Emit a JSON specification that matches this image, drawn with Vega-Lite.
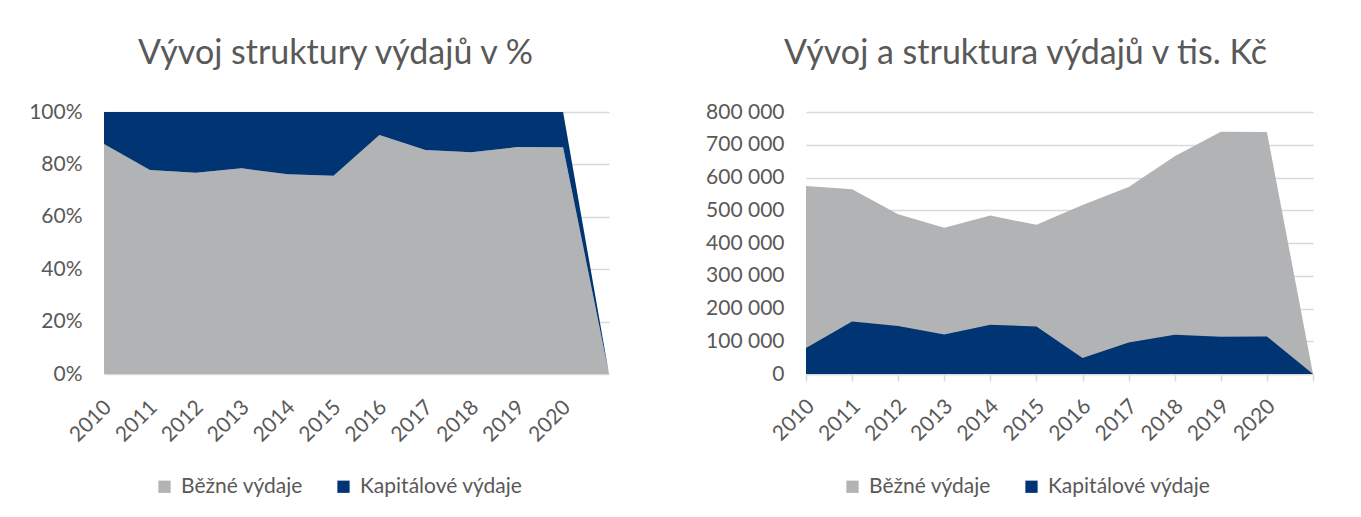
{
  "$schema": "https://vega.github.io/schema/vega-lite/v6.json",
  "padding": {"left": 28, "top": 37, "right": 0, "bottom": 0},
  "background": "white",
  "datasets": {
    "struktura": [
      {"rok": "2010", "druh": "Běžné výdaje", "procento": 87.8},
      {"rok": "2011", "druh": "Běžné výdaje", "procento": 77.9},
      {"rok": "2012", "druh": "Běžné výdaje", "procento": 76.8},
      {"rok": "2013", "druh": "Běžné výdaje", "procento": 78.5},
      {"rok": "2014", "druh": "Běžné výdaje", "procento": 76.2},
      {"rok": "2015", "druh": "Běžné výdaje", "procento": 75.7},
      {"rok": "2016", "druh": "Běžné výdaje", "procento": 91.2},
      {"rok": "2017", "druh": "Běžné výdaje", "procento": 85.5},
      {"rok": "2018", "druh": "Běžné výdaje", "procento": 84.6},
      {"rok": "2019", "druh": "Běžné výdaje", "procento": 86.6},
      {"rok": "2020", "druh": "Běžné výdaje", "procento": 86.5},
      {"rok": "", "druh": "Běžné výdaje", "procento": 0},
      {"rok": "2010", "druh": "Kapitálové výdaje", "procento": 12.2},
      {"rok": "2011", "druh": "Kapitálové výdaje", "procento": 22.1},
      {"rok": "2012", "druh": "Kapitálové výdaje", "procento": 23.2},
      {"rok": "2013", "druh": "Kapitálové výdaje", "procento": 21.5},
      {"rok": "2014", "druh": "Kapitálové výdaje", "procento": 23.8},
      {"rok": "2015", "druh": "Kapitálové výdaje", "procento": 24.3},
      {"rok": "2016", "druh": "Kapitálové výdaje", "procento": 8.8},
      {"rok": "2017", "druh": "Kapitálové výdaje", "procento": 14.5},
      {"rok": "2018", "druh": "Kapitálové výdaje", "procento": 15.4},
      {"rok": "2019", "druh": "Kapitálové výdaje", "procento": 13.4},
      {"rok": "2020", "druh": "Kapitálové výdaje", "procento": 13.5},
      {"rok": "", "druh": "Kapitálové výdaje", "procento": 0}
    ],
    "vydaje": [
      {"rok": "2010", "druh": "Běžné výdaje", "hodnota": 574300},
      {"rok": "2011", "druh": "Běžné výdaje", "hodnota": 564200},
      {"rok": "2012", "druh": "Běžné výdaje", "hodnota": 488000},
      {"rok": "2013", "druh": "Běžné výdaje", "hodnota": 446200},
      {"rok": "2014", "druh": "Běžné výdaje", "hodnota": 483700},
      {"rok": "2015", "druh": "Běžné výdaje", "hodnota": 455400},
      {"rok": "2016", "druh": "Běžné výdaje", "hodnota": 516400},
      {"rok": "2017", "druh": "Běžné výdaje", "hodnota": 571300},
      {"rok": "2018", "druh": "Běžné výdaje", "hodnota": 664900},
      {"rok": "2019", "druh": "Běžné výdaje", "hodnota": 740000},
      {"rok": "2020", "druh": "Běžné výdaje", "hodnota": 739000},
      {"rok": "", "druh": "Běžné výdaje", "hodnota": 0},
      {"rok": "2010", "druh": "Kapitálové výdaje", "hodnota": 79300},
      {"rok": "2011", "druh": "Kapitálové výdaje", "hodnota": 160400},
      {"rok": "2012", "druh": "Kapitálové výdaje", "hodnota": 146400},
      {"rok": "2013", "druh": "Kapitálové výdaje", "hodnota": 120800},
      {"rok": "2014", "druh": "Kapitálové výdaje", "hodnota": 150400},
      {"rok": "2015", "druh": "Kapitálové výdaje", "hodnota": 145200},
      {"rok": "2016", "druh": "Kapitálové výdaje", "hodnota": 48800},
      {"rok": "2017", "druh": "Kapitálové výdaje", "hodnota": 96400},
      {"rok": "2018", "druh": "Kapitálové výdaje", "hodnota": 119900},
      {"rok": "2019", "druh": "Kapitálové výdaje", "hodnota": 113800},
      {"rok": "2020", "druh": "Kapitálové výdaje", "hodnota": 114700},
      {"rok": "", "druh": "Kapitálové výdaje", "hodnota": 0}
    ]
  },
  "resolve": {"scale": {"color": "independent"}, "legend": {"color": "independent"}},
  "spacing": 85,
  "hconcat": [
    {
      "width": 505,
      "height": 262,
      "title": {"text": "Vývoj struktury výdajů v %", "dx": -21, "offset": 30},
      "data": {"name": "struktura"},
      "mark": {"type": "area", "interpolate": "linear", "opacity": 1},
      "encoding": {
        "x": {
          "field": "rok", "type": "ordinal",
          "scale": {"type": "point", "padding": 0, "domain": ["2010","2011","2012","2013","2014","2015","2016","2017","2018","2019","2020",""]},
          "axis": {"title": null, "labelAngle": -45, "ticks": false, "domain": false, "grid": false, "labelPadding": 22, "labelOffset": -4}
        },
        "y": {
          "field": "procento", "type": "quantitative", "stack": "zero",
          "scale": {"domain": [0, 100], "nice": false},
          "axis": {"title": null, "values": [0, 20, 40, 60, 80, 100], "labelExpr": "datum.value + '%'", "ticks": false, "domain": false, "labelPadding": 22}
        },
        "color": {
          "field": "druh", "type": "nominal",
          "scale": {"domain": ["Běžné výdaje", "Kapitálové výdaje"], "range": ["#B2B3B5", "#003473"]},
          "legend": {"orient": "none", "direction": "horizontal", "legendX": 50, "legendY": 364, "title": null}
        },
        "order": {"field": "druh", "sort": "ascending"}
      }
    },
    {
      "width": 507,
      "height": 262,
      "title": {"text": "Vývoj a struktura výdajů v tis. Kč", "dx": -34, "offset": 30},
      "data": {"name": "vydaje"},
      "encoding": {
        "x": {
          "field": "rok", "type": "ordinal",
          "scale": {"type": "point", "padding": 0, "domain": ["2010","2011","2012","2013","2014","2015","2016","2017","2018","2019","2020",""]},
          "axis": {"title": null, "labelAngle": -45, "ticks": true, "tickSize": 7, "tickColor": "#D9D9D9", "tickWidth": 1.5, "domain": true, "domainColor": "#D9D9D9", "domainWidth": 1.5, "grid": false, "labelPadding": 14, "labelOffset": -3}
        },
        "y": {
          "field": "hodnota", "type": "quantitative", "stack": null,
          "scale": {"domain": [0, 800000], "nice": false},
          "axis": {"title": null, "values": [0, 100000, 200000, 300000, 400000, 500000, 600000, 700000, 800000], "format": ",d", "ticks": false, "domain": false, "labelPadding": 22}
        },
        "color": {
          "field": "druh", "type": "nominal",
          "scale": {"domain": ["Běžné výdaje", "Kapitálové výdaje"], "range": ["#B2B3B5", "#003473"]},
          "legend": {"orient": "none", "direction": "horizontal", "legendX": 36, "legendY": 364, "title": null}
        }
      },
      "layer": [
        {
          "transform": [{"filter": "datum.druh == 'Běžné výdaje'"}],
          "mark": {"type": "area", "interpolate": "linear", "opacity": 1}
        },
        {
          "transform": [{"filter": "datum.druh == 'Kapitálové výdaje'"}],
          "mark": {"type": "area", "interpolate": "linear", "opacity": 1}
        }
      ]
    }
  ],
  "config": {
    "locale": {"number": {"decimal": ",", "thousands": " ", "grouping": [3], "currency": ["", " Kč"]}},
    "view": {"stroke": null},
    "font": "Lato",
    "title": {"font": "Lato", "fontSize": 34, "fontWeight": "normal", "color": "#595959", "anchor": "middle"},
    "axis": {"labelFont": "Lato", "labelFontSize": 21, "labelColor": "#595959", "gridColor": "#D9D9D9", "gridWidth": 1.5},
    "legend": {"labelFont": "Lato", "labelFontSize": 21, "labelColor": "#595959", "labelLimit": 400, "symbolType": "square", "symbolSize": 150, "symbolStrokeWidth": 0, "symbolOpacity": 1, "labelOffset": 6, "columnPadding": 30, "padding": 0}
  }
}
